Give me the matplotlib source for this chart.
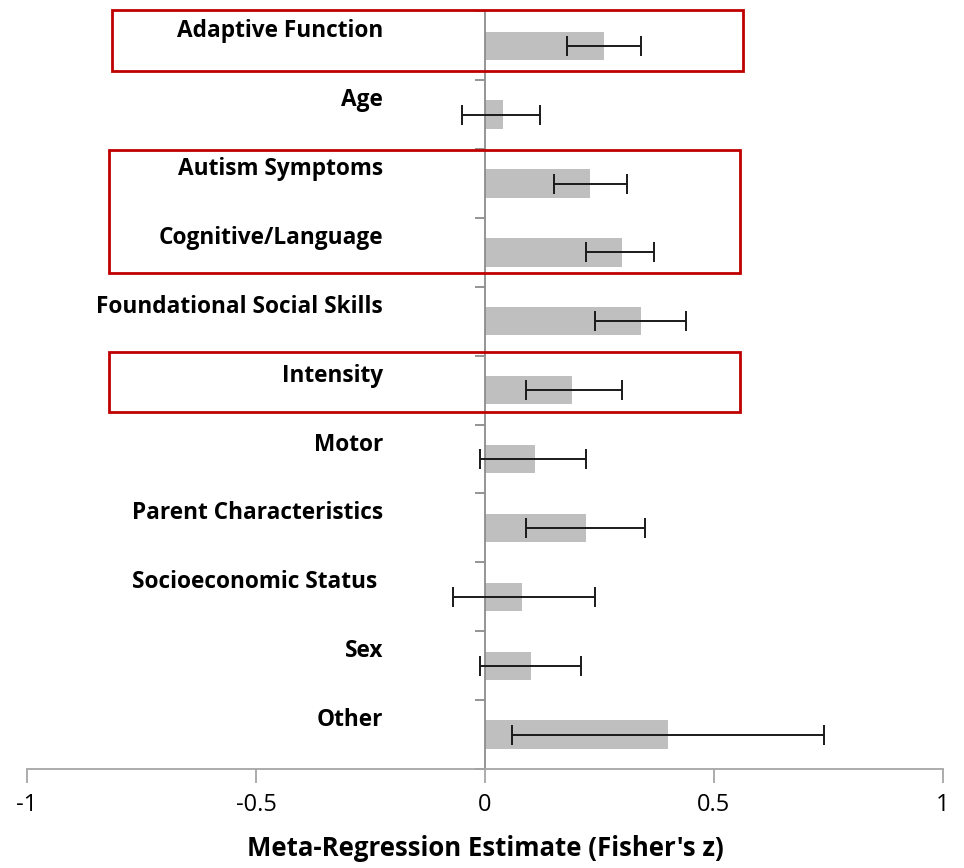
import matplotlib.pyplot as plt
from matplotlib.patches import Rectangle

# data
categories = ['Adaptive Function', 'Age', 'Autism Symptoms', 'Cognitive/Language',
              'Foundational Social Skills', 'Intensity', 'Motor', 'Parent Characteristics',
              'Socioeconomic Status ', 'Sex', 'Other']
estimates = [0.26, 0.04, 0.23, 0.30, 0.34, 0.19, 0.11, 0.22, 0.08, 0.10, 0.40]
ci_low = [0.18, -0.05, 0.15, 0.22, 0.24, 0.09, -0.01, 0.09, -0.07, -0.01, 0.06]
ci_high = [0.34, 0.12, 0.31, 0.37, 0.44, 0.30, 0.22, 0.35, 0.24, 0.21, 0.74]
xticks = [-1, -0.5, 0, 0.5, 1]
xtick_labels = ['-1', '-0.5', '0', '0.5', '1']
# highlighted groups (first, last category in each red box)
highlights = [('Adaptive Function', 'Adaptive Function'),
              ('Autism Symptoms', 'Cognitive/Language'),
              ('Intensity', 'Intensity')]

fig = plt.figure(figsize=(9.64, 8.68), dpi=100)
ax = fig.add_axes([0.028, 0.114, 0.950, 0.873])

y = list(range(len(categories)))
err_lo = [e - l for e, l in zip(estimates, ci_low)]
err_hi = [h - e for e, h in zip(estimates, ci_high)]

ax.barh(y, estimates, height=0.41, color='#BFBFBF', zorder=2)
ax.errorbar(estimates, y, xerr=[err_lo, err_hi], fmt='none', ecolor='#1a1a1a',
            elinewidth=1.4, capsize=7, capthick=1.4, zorder=3)

ax.set_xlim(-1, 1)
ax.set_ylim(len(categories) - 0.5, -0.5)

# vertical axis through zero with ticks between categories
ax.spines['left'].set_position(('data', 0))
for s in ['top', 'right']:
    ax.spines[s].set_visible(False)
ax.spines['left'].set_color('#8c8c8c')
ax.spines['bottom'].set_color('#a6a6a6')
ax.spines['left'].set_linewidth(1.3)
ax.spines['bottom'].set_linewidth(1.3)
ax.set_yticks([i - 0.5 for i in range(len(categories) + 1)])
ax.set_yticklabels([])
ax.tick_params(axis='y', length=7, width=1.3, color='#8c8c8c', direction='out')

ax.set_xticks(xticks)
ax.set_xticklabels(xtick_labels, fontsize=17, family='Open Sans')
ax.tick_params(axis='x', length=10, width=1.3, color='#a6a6a6', direction='out', pad=7)
ax.set_xlabel("Meta-Regression Estimate (Fisher's z)", fontsize=18.5,
              fontweight='bold', family='Open Sans', labelpad=13)

for i, name in enumerate(categories):
    ax.text(-0.222, i - 0.21, name, ha='right', va='center', fontsize=16.3,
            fontweight='bold', family='Open Sans')

# red highlight boxes
box_specs = [(-0.814, 0.563, -0.52, 0.36), (-0.821, 0.557, -0.49, 0.30),
             (-0.821, 0.557, -0.55, 0.32)]
for (first, last), (x0, x1, top, bot) in zip(highlights, box_specs):
    i0 = categories.index(first)
    i1 = categories.index(last)
    ax.add_patch(Rectangle((x0, i0 + top), x1 - x0, (i1 + bot) - (i0 + top),
                           fill=False, edgecolor='#C00000', linewidth=2,
                           clip_on=False, zorder=4))

fig.savefig('out.png', dpi=100)
